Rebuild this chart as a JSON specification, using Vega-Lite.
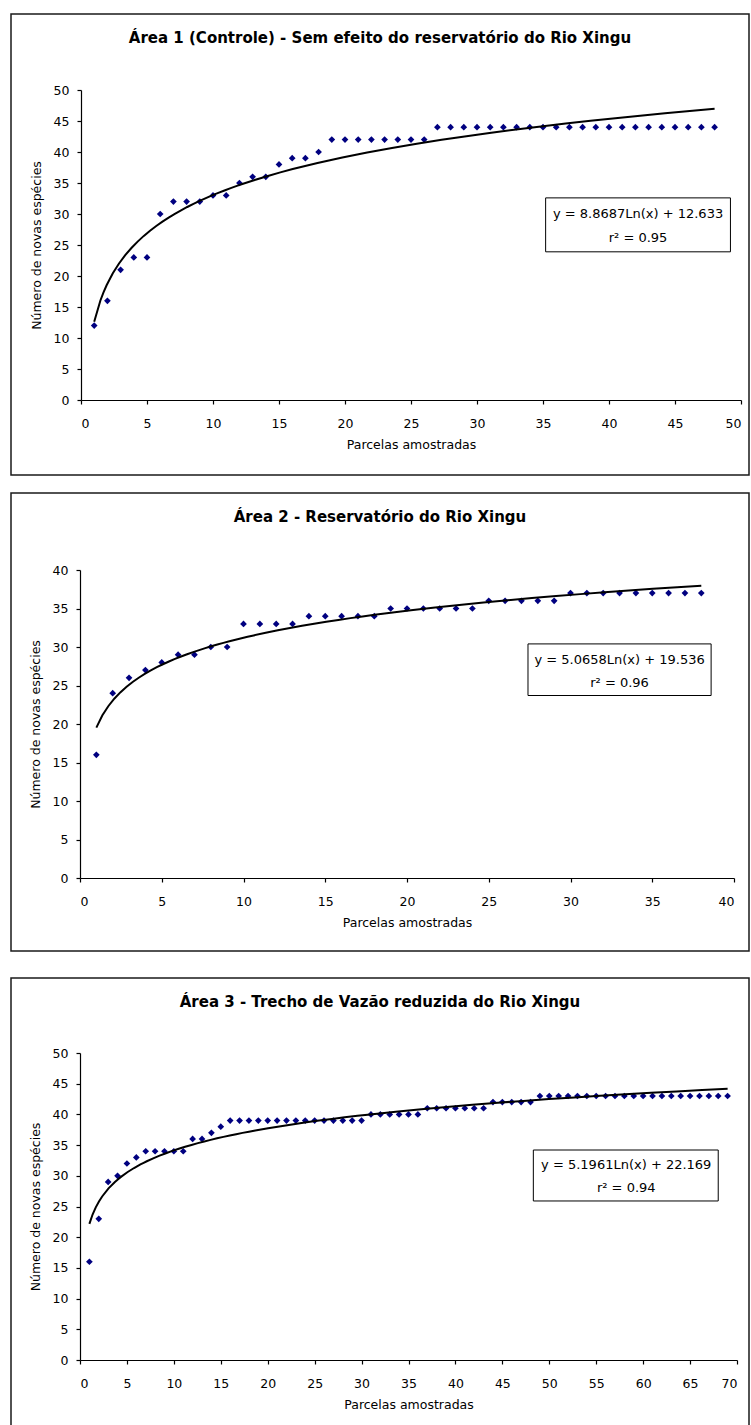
{
  "$schema": "https://vega.github.io/schema/vega-lite/v6.json",
  "padding": {"left": 10, "top": 13, "right": 0, "bottom": 0},
  "background": "white",
  "config": {
    "view": {"stroke": "#1a1a1a", "strokeWidth": 1.5},
    "font": "DejaVu Sans",
    "axis": {"grid": false, "domainColor": "#000", "domainWidth": 1.2, "tickColor": "#000", "tickWidth": 1.2, "tickSize": 4, "labelColor": "#000", "labelFont": "DejaVu Sans", "labelFontSize": 12.5, "titleFont": "DejaVu Sans", "titleFontSize": 12.5, "titleFontWeight": "normal", "titleColor": "#000"},
    "axisX": {"labelPadding": 13, "titlePadding": 9},
    "axisY": {"labelPadding": 8, "titlePadding": 10},
    "title": {"font": "DejaVu Sans", "fontSize": 15, "fontWeight": "bold", "color": "#000", "anchor": "middle", "frame": "group", "offset": -32}
  },
  "datasets": {
    "a1": [
      {"x": 1, "y": 12}, {"x": 2, "y": 16}, {"x": 3, "y": 21}, {"x": 4, "y": 23}, {"x": 5, "y": 23},
      {"x": 6, "y": 30}, {"x": 7, "y": 32}, {"x": 8, "y": 32}, {"x": 9, "y": 32}, {"x": 10, "y": 33},
      {"x": 11, "y": 33}, {"x": 12, "y": 35}, {"x": 13, "y": 36}, {"x": 14, "y": 36}, {"x": 15, "y": 38},
      {"x": 16, "y": 39}, {"x": 17, "y": 39}, {"x": 18, "y": 40}, {"x": 19, "y": 42}, {"x": 20, "y": 42},
      {"x": 21, "y": 42}, {"x": 22, "y": 42}, {"x": 23, "y": 42}, {"x": 24, "y": 42}, {"x": 25, "y": 42},
      {"x": 26, "y": 42}, {"x": 27, "y": 44}, {"x": 28, "y": 44}, {"x": 29, "y": 44}, {"x": 30, "y": 44},
      {"x": 31, "y": 44}, {"x": 32, "y": 44}, {"x": 33, "y": 44}, {"x": 34, "y": 44}, {"x": 35, "y": 44},
      {"x": 36, "y": 44}, {"x": 37, "y": 44}, {"x": 38, "y": 44}, {"x": 39, "y": 44}, {"x": 40, "y": 44},
      {"x": 41, "y": 44}, {"x": 42, "y": 44}, {"x": 43, "y": 44}, {"x": 44, "y": 44}, {"x": 45, "y": 44},
      {"x": 46, "y": 44}, {"x": 47, "y": 44}, {"x": 48, "y": 44}
    ],
    "a2": [
      {"x": 1, "y": 16}, {"x": 2, "y": 24}, {"x": 3, "y": 26}, {"x": 4, "y": 27}, {"x": 5, "y": 28},
      {"x": 6, "y": 29}, {"x": 7, "y": 29}, {"x": 8, "y": 30}, {"x": 9, "y": 30}, {"x": 10, "y": 33},
      {"x": 11, "y": 33}, {"x": 12, "y": 33}, {"x": 13, "y": 33}, {"x": 14, "y": 34}, {"x": 15, "y": 34},
      {"x": 16, "y": 34}, {"x": 17, "y": 34}, {"x": 18, "y": 34}, {"x": 19, "y": 35}, {"x": 20, "y": 35},
      {"x": 21, "y": 35}, {"x": 22, "y": 35}, {"x": 23, "y": 35}, {"x": 24, "y": 35}, {"x": 25, "y": 36},
      {"x": 26, "y": 36}, {"x": 27, "y": 36}, {"x": 28, "y": 36}, {"x": 29, "y": 36}, {"x": 30, "y": 37},
      {"x": 31, "y": 37}, {"x": 32, "y": 37}, {"x": 33, "y": 37}, {"x": 34, "y": 37}, {"x": 35, "y": 37},
      {"x": 36, "y": 37}, {"x": 37, "y": 37}, {"x": 38, "y": 37}
    ],
    "a3": [
      {"x": 1, "y": 16}, {"x": 2, "y": 23}, {"x": 3, "y": 29}, {"x": 4, "y": 30}, {"x": 5, "y": 32},
      {"x": 6, "y": 33}, {"x": 7, "y": 34}, {"x": 8, "y": 34}, {"x": 9, "y": 34}, {"x": 10, "y": 34},
      {"x": 11, "y": 34}, {"x": 12, "y": 36}, {"x": 13, "y": 36}, {"x": 14, "y": 37}, {"x": 15, "y": 38},
      {"x": 16, "y": 39}, {"x": 17, "y": 39}, {"x": 18, "y": 39}, {"x": 19, "y": 39}, {"x": 20, "y": 39},
      {"x": 21, "y": 39}, {"x": 22, "y": 39}, {"x": 23, "y": 39}, {"x": 24, "y": 39}, {"x": 25, "y": 39},
      {"x": 26, "y": 39}, {"x": 27, "y": 39}, {"x": 28, "y": 39}, {"x": 29, "y": 39}, {"x": 30, "y": 39},
      {"x": 31, "y": 40}, {"x": 32, "y": 40}, {"x": 33, "y": 40}, {"x": 34, "y": 40}, {"x": 35, "y": 40},
      {"x": 36, "y": 40}, {"x": 37, "y": 41}, {"x": 38, "y": 41}, {"x": 39, "y": 41}, {"x": 40, "y": 41},
      {"x": 41, "y": 41}, {"x": 42, "y": 41}, {"x": 43, "y": 41}, {"x": 44, "y": 42}, {"x": 45, "y": 42},
      {"x": 46, "y": 42}, {"x": 47, "y": 42}, {"x": 48, "y": 42}, {"x": 49, "y": 43}, {"x": 50, "y": 43},
      {"x": 51, "y": 43}, {"x": 52, "y": 43}, {"x": 53, "y": 43}, {"x": 54, "y": 43}, {"x": 55, "y": 43},
      {"x": 56, "y": 43}, {"x": 57, "y": 43}, {"x": 58, "y": 43}, {"x": 59, "y": 43}, {"x": 60, "y": 43},
      {"x": 61, "y": 43}, {"x": 62, "y": 43}, {"x": 63, "y": 43}, {"x": 64, "y": 43}, {"x": 65, "y": 43},
      {"x": 66, "y": 43}, {"x": 67, "y": 43}, {"x": 68, "y": 43}, {"x": 69, "y": 43}
    ]
  },
  "spacing": 16,
  "vconcat": [
    {
      "width": 738, "height": 461,
      "title": "Área 1 (Controle) - Sem efeito do reservatório do Rio Xingu",
      "layer": [
        {
          "data": {"name": "a1"},
          "mark": {"type": "point", "shape": "diamond", "filled": true, "color": "#000080", "size": 45, "opacity": 1},
          "encoding": {
            "x": {"field": "x", "type": "quantitative", "scale": {"domain": [0, 50], "range": [70, 730], "nice": false, "zero": false}, "axis": {"values": [0, 5, 10, 15, 20, 25, 30, 35, 40, 45, 50], "offset": -75, "title": "Parcelas amostradas"}},
            "y": {"field": "y", "type": "quantitative", "scale": {"domain": [0, 50], "range": [386, 76], "nice": false}, "axis": {"values": [0, 5, 10, 15, 20, 25, 30, 35, 40, 45, 50], "offset": -70, "title": "Número de novas espécies"}}
          }
        },
        {
          "data": {"name": "a1"},
          "transform": [{"regression": "y", "on": "x", "method": "log", "extent": [1, 48]}],
          "mark": {"type": "line", "color": "#000", "strokeWidth": 2},
          "encoding": {
            "x": {"field": "x", "type": "quantitative", "title": "Parcelas amostradas"},
            "y": {"field": "y", "type": "quantitative", "title": "Número de novas espécies"}
          }
        },
        {
          "data": {"values": [{"eq": "y = 8.8687Ln(x) + 12.633", "r2": "r² = 0.95"}]},
          "mark": {"type": "rect", "fill": "white", "stroke": "#000", "strokeWidth": 1},
          "encoding": {"x": {"datum": 35.2}, "x2": {"datum": 49.2}, "y": {"datum": 32.6}, "y2": {"datum": 23.9}}
        },
        {
          "data": {"values": [{"eq": "y = 8.8687Ln(x) + 12.633", "r2": "r² = 0.95"}]},
          "mark": {"type": "text", "fontSize": 13, "font": "DejaVu Sans", "color": "#000", "align": "center", "baseline": "middle"},
          "encoding": {"x": {"datum": 42.2}, "y": {"datum": 30.0}, "text": {"field": "eq"}}
        },
        {
          "data": {"values": [{"eq": "y = 8.8687Ln(x) + 12.633", "r2": "r² = 0.95"}]},
          "mark": {"type": "text", "fontSize": 13, "font": "DejaVu Sans", "color": "#000", "align": "center", "baseline": "middle"},
          "encoding": {"x": {"datum": 42.2}, "y": {"datum": 26.2}, "text": {"field": "r2"}}
        }
      ]
    },
    {
      "spacing": 25,
      "vconcat": [
        {
          "width": 738, "height": 458,
          "title": "Área 2 - Reservatório do Rio Xingu",
          "layer": [
            {
              "data": {"name": "a2"},
              "mark": {"type": "point", "shape": "diamond", "filled": true, "color": "#000080", "size": 45, "opacity": 1},
              "encoding": {
                "x": {"field": "x", "type": "quantitative", "scale": {"domain": [0, 40], "range": [69, 723], "nice": false, "zero": false}, "axis": {"values": [0, 5, 10, 15, 20, 25, 30, 35, 40], "offset": -73, "title": "Parcelas amostradas"}},
                "y": {"field": "y", "type": "quantitative", "scale": {"domain": [0, 40], "range": [385, 77], "nice": false}, "axis": {"values": [0, 5, 10, 15, 20, 25, 30, 35, 40], "offset": -69, "title": "Número de novas espécies"}}
              }
            },
            {
              "data": {"name": "a2"},
              "transform": [{"regression": "y", "on": "x", "method": "log", "extent": [1, 38]}],
              "mark": {"type": "line", "color": "#000", "strokeWidth": 2},
              "encoding": {
                "x": {"field": "x", "type": "quantitative", "title": "Parcelas amostradas"},
                "y": {"field": "y", "type": "quantitative", "title": "Número de novas espécies"}
              }
            },
            {
              "data": {"values": [{"eq": "y = 5.0658Ln(x) + 19.536", "r2": "r² = 0.96"}]},
              "mark": {"type": "rect", "fill": "white", "stroke": "#000", "strokeWidth": 1},
              "encoding": {"x": {"datum": 27.4}, "x2": {"datum": 38.6}, "y": {"datum": 30.4}, "y2": {"datum": 23.7}}
            },
            {
              "data": {"values": [{"eq": "y = 5.0658Ln(x) + 19.536", "r2": "r² = 0.96"}]},
              "mark": {"type": "text", "fontSize": 13, "font": "DejaVu Sans", "color": "#000", "align": "center", "baseline": "middle"},
              "encoding": {"x": {"datum": 33.0}, "y": {"datum": 28.35}, "text": {"field": "eq"}}
            },
            {
              "data": {"values": [{"eq": "y = 5.0658Ln(x) + 19.536", "r2": "r² = 0.96"}]},
              "mark": {"type": "text", "fontSize": 13, "font": "DejaVu Sans", "color": "#000", "align": "center", "baseline": "middle"},
              "encoding": {"x": {"datum": 33.0}, "y": {"datum": 25.3}, "text": {"field": "r2"}}
            }
          ]
        },
        {
          "width": 738, "height": 450,
          "title": "Área 3 - Trecho de Vazão reduzida do Rio Xingu",
          "layer": [
            {
              "data": {"name": "a3"},
              "mark": {"type": "point", "shape": "diamond", "filled": true, "color": "#000080", "size": 45, "opacity": 1},
              "encoding": {
                "x": {"field": "x", "type": "quantitative", "scale": {"domain": [0, 70], "range": [69, 726], "nice": false, "zero": false}, "axis": {"values": [0, 5, 10, 15, 20, 25, 30, 35, 40, 45, 50, 55, 60, 65, 70], "offset": -68, "title": "Parcelas amostradas"}},
                "y": {"field": "y", "type": "quantitative", "scale": {"domain": [0, 50], "range": [382, 75], "nice": false}, "axis": {"values": [0, 5, 10, 15, 20, 25, 30, 35, 40, 45, 50], "offset": -69, "title": "Número de novas espécies"}}
              }
            },
            {
              "data": {"name": "a3"},
              "transform": [{"regression": "y", "on": "x", "method": "log", "extent": [1, 69]}],
              "mark": {"type": "line", "color": "#000", "strokeWidth": 2},
              "encoding": {
                "x": {"field": "x", "type": "quantitative", "title": "Parcelas amostradas"},
                "y": {"field": "y", "type": "quantitative", "title": "Número de novas espécies"}
              }
            },
            {
              "data": {"values": [{"eq": "y = 5.1961Ln(x) + 22.169", "r2": "r² = 0.94"}]},
              "mark": {"type": "rect", "fill": "white", "stroke": "#000", "strokeWidth": 1},
              "encoding": {"x": {"datum": 48.3}, "x2": {"datum": 68.0}, "y": {"datum": 34.2}, "y2": {"datum": 25.9}}
            },
            {
              "data": {"values": [{"eq": "y = 5.1961Ln(x) + 22.169", "r2": "r² = 0.94"}]},
              "mark": {"type": "text", "fontSize": 13, "font": "DejaVu Sans", "color": "#000", "align": "center", "baseline": "middle"},
              "encoding": {"x": {"datum": 58.2}, "y": {"datum": 31.8}, "text": {"field": "eq"}}
            },
            {
              "data": {"values": [{"eq": "y = 5.1961Ln(x) + 22.169", "r2": "r² = 0.94"}]},
              "mark": {"type": "text", "fontSize": 13, "font": "DejaVu Sans", "color": "#000", "align": "center", "baseline": "middle"},
              "encoding": {"x": {"datum": 58.2}, "y": {"datum": 28.0}, "text": {"field": "r2"}}
            }
          ]
        }
      ]
    }
  ]
}
